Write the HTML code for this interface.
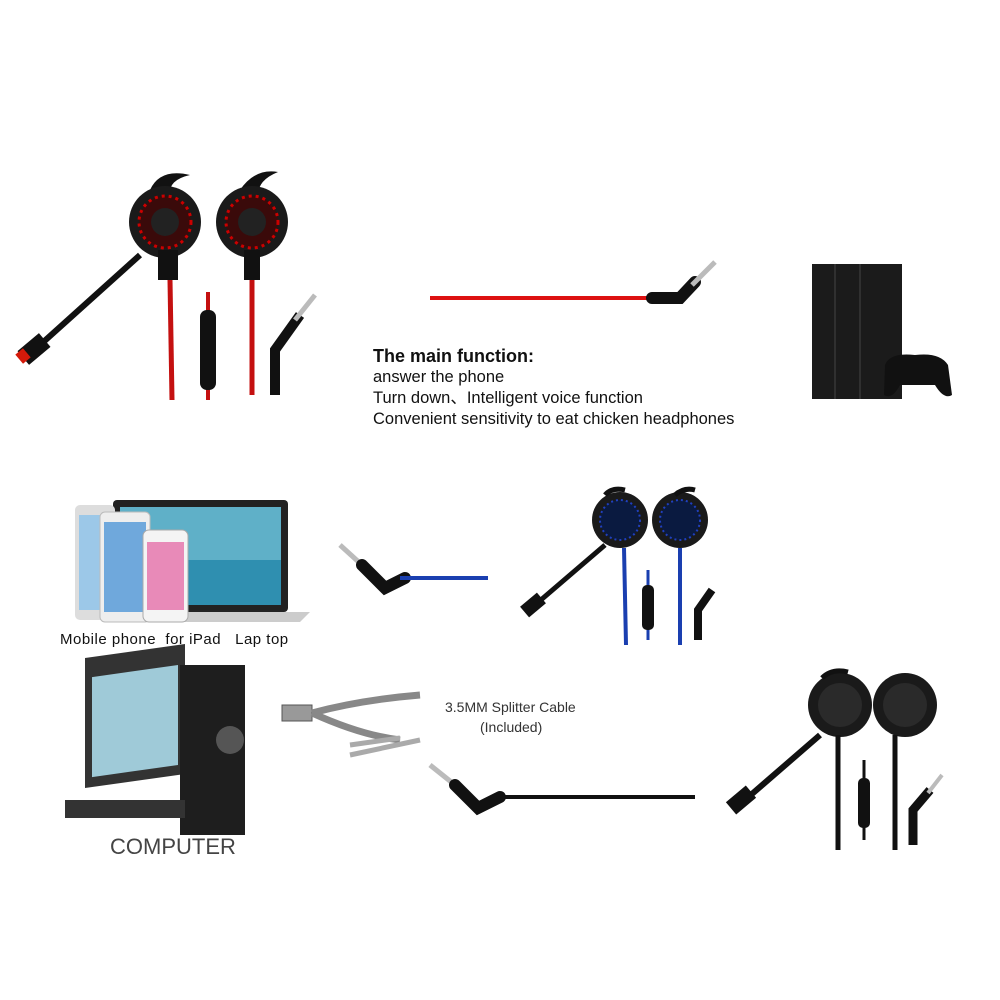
<!DOCTYPE html>
<html><head><meta charset="utf-8"><style>
html,body{margin:0;padding:0;background:#fff;}
.t{font-family:"Liberation Sans",sans-serif;position:absolute;color:#111;}
</style></head><body>
<div style="position:relative;width:1000px;height:1000px;overflow:hidden;background:#fff">
<svg width="1000" height="1000" style="position:absolute;left:0;top:0">
<g>
<path d="M150 190 Q160 168 190 175 Q168 180 170 195Z" fill="#111"/>
<path d="M240 190 Q255 168 278 172 Q258 180 258 195Z" fill="#111"/>
<circle cx="165" cy="222" r="36" fill="#1a1a1a"/><circle cx="165" cy="222" r="26" fill="#3a0a0a" stroke="#c00" stroke-width="3" stroke-dasharray="3 4"/><circle cx="165" cy="222" r="14" fill="#222"/>
<circle cx="252" cy="222" r="36" fill="#1a1a1a"/><circle cx="252" cy="222" r="26" fill="#3a0a0a" stroke="#c00" stroke-width="3" stroke-dasharray="3 4"/><circle cx="252" cy="222" r="14" fill="#222"/>
<path d="M140 255 L40 345" stroke="#111" stroke-width="6"/>
<rect x="20" y="340" width="28" height="18" fill="#111" transform="rotate(-40 34 349)"/>
<rect x="18" y="350" width="10" height="12" fill="#d41a0a" transform="rotate(-40 23 356)"/>
<rect x="158" y="250" width="20" height="30" fill="#111"/>
<rect x="244" y="250" width="16" height="30" fill="#111"/>
<path d="M170 280 L172 400" stroke="#c41010" stroke-width="5"/>
<path d="M252 280 L252 395" stroke="#c41010" stroke-width="5"/>
<path d="M208 292 L208 400" stroke="#c41010" stroke-width="4"/>
<rect x="200" y="310" width="16" height="80" rx="7" fill="#111"/>
<path d="M275 395 L275 350 L300 315" stroke="#111" stroke-width="10" fill="none"/>
<path d="M295 320 L315 295" stroke="#bbb" stroke-width="5"/>
</g>
<line x1="430" y1="298" x2="655" y2="298" stroke="#d11" stroke-width="4"/>
<path d="M652 298 L680 298 L695 282" stroke="#111" stroke-width="12" fill="none" stroke-linecap="round"/>
<path d="M692 285 L715 262" stroke="#bbb" stroke-width="5"/>
<rect x="812" y="264" width="90" height="135" fill="#1b1b1b"/>
<line x1="835" y1="264" x2="835" y2="399" stroke="#444"/>
<line x1="860" y1="264" x2="860" y2="399" stroke="#444"/>
<path d="M885 365 Q890 352 915 355 Q940 352 948 365 L952 395 Q944 400 935 385 L900 385 Q892 400 884 395Z" fill="#111"/>
<rect x="113" y="500" width="175" height="112" rx="4" fill="#222"/>
<rect x="120" y="507" width="161" height="98" fill="#5fb0c8"/>
<rect x="120" y="560" width="161" height="45" fill="#2f8fb0"/>
<path d="M95 612 L310 612 L300 622 L105 622Z" fill="#ccc"/>
<rect x="75" y="505" width="40" height="115" rx="5" fill="#ddd"/>
<rect x="79" y="515" width="32" height="95" fill="#9cc8e8"/>
<rect x="100" y="512" width="50" height="110" rx="5" fill="#eee" stroke="#bbb"/>
<rect x="104" y="522" width="42" height="90" fill="#6fa8dc"/>
<rect x="143" y="530" width="45" height="92" rx="6" fill="#f4f4f4" stroke="#aaa"/>
<rect x="147" y="542" width="37" height="68" fill="#e88ab8"/>
<path d="M340 545 L362 565 L378 585" stroke="#bbb" stroke-width="5" fill="none"/>
<path d="M362 565 L385 588 L405 578" stroke="#111" stroke-width="12" fill="none" stroke-linecap="round"/>
<line x1="400" y1="578" x2="488" y2="578" stroke="#1a3fb0" stroke-width="4"/>
<circle cx="620" cy="520" r="28" fill="#1a1a1a"/><circle cx="620" cy="520" r="20" fill="#0a1a40" stroke="#2040c0" stroke-width="2" stroke-dasharray="2 3"/>
<circle cx="680" cy="520" r="28" fill="#1a1a1a"/><circle cx="680" cy="520" r="20" fill="#0a1a40" stroke="#2040c0" stroke-width="2" stroke-dasharray="2 3"/>
<path d="M605 495 Q612 487 625 490" stroke="#111" stroke-width="5" fill="none"/>
<path d="M675 495 Q684 487 695 490" stroke="#111" stroke-width="5" fill="none"/>
<path d="M605 545 L535 605" stroke="#111" stroke-width="5"/>
<rect x="522" y="598" width="22" height="14" fill="#111" transform="rotate(-40 533 605)"/>
<path d="M624 548 L626 645" stroke="#1a3fb0" stroke-width="4"/>
<path d="M680 548 L680 645" stroke="#1a3fb0" stroke-width="4"/>
<path d="M648 570 L648 640" stroke="#1a3fb0" stroke-width="3"/>
<rect x="642" y="585" width="12" height="45" rx="5" fill="#111"/>
<path d="M698 640 L698 610 L712 590" stroke="#111" stroke-width="8" fill="none"/>
<rect x="85" y="670" width="100" height="130" fill="#333" transform="skewY(-8)"/>
<rect x="92" y="690" width="86" height="100" fill="#9fcad8" transform="skewY(-8)"/>
<rect x="180" y="665" width="65" height="170" fill="#1e1e1e"/>
<circle cx="230" cy="740" r="14" fill="#555"/>
<rect x="65" y="800" width="120" height="18" fill="#333"/>
<rect x="282" y="705" width="30" height="16" fill="#999" stroke="#555"/>
<path d="M312 713 Q360 700 420 695 M312 713 Q360 735 400 740" stroke="#888" stroke-width="7" fill="none"/>
<path d="M350 745 L400 738 M350 755 L420 740" stroke="#aaa" stroke-width="5"/>
<path d="M430 765 L455 785" stroke="#bbb" stroke-width="5"/>
<path d="M455 785 L478 808 L500 797" stroke="#111" stroke-width="12" fill="none" stroke-linecap="round"/>
<line x1="495" y1="797" x2="695" y2="797" stroke="#111" stroke-width="4"/>
<circle cx="840" cy="705" r="32" fill="#1a1a1a"/><circle cx="840" cy="705" r="22" fill="#2a2a2a"/>
<circle cx="905" cy="705" r="32" fill="#1a1a1a"/><circle cx="905" cy="705" r="22" fill="#2a2a2a"/>
<path d="M822 678 Q832 668 848 672" stroke="#111" stroke-width="5" fill="none"/>
<path d="M820 735 L745 800" stroke="#111" stroke-width="6"/>
<rect x="728" y="792" width="26" height="16" fill="#111" transform="rotate(-40 741 800)"/>
<path d="M838 735 L838 850" stroke="#111" stroke-width="5"/>
<path d="M895 735 L895 850" stroke="#111" stroke-width="5"/>
<path d="M864 760 L864 840" stroke="#111" stroke-width="3"/>
<rect x="858" y="778" width="12" height="50" rx="5" fill="#111"/>
<path d="M913 845 L913 810 L930 790" stroke="#111" stroke-width="9" fill="none"/>
<path d="M928 793 L942 775" stroke="#bbb" stroke-width="4"/>
</svg>
<div class="t" style="left:373px;top:346px;font-size:18px;font-weight:bold">The main function:</div>
<div class="t" style="left:373px;top:367px;font-size:16.5px;line-height:21px">answer the phone<br>Turn down、Intelligent voice function<br>Convenient sensitivity to eat chicken headphones</div>
<div class="t" style="left:60px;top:631px;font-size:15px;letter-spacing:0.5px">Mobile phone&nbsp; for iPad&nbsp;&nbsp; Lap top</div>
<div class="t" style="left:445px;top:699px;font-size:14px;color:#333">3.5MM Splitter Cable</div>
<div class="t" style="left:480px;top:719px;font-size:14px;color:#333">(Included)</div>
<div class="t" style="left:110px;top:834px;font-size:22px;color:#444">COMPUTER</div>
</div>
</body></html>
